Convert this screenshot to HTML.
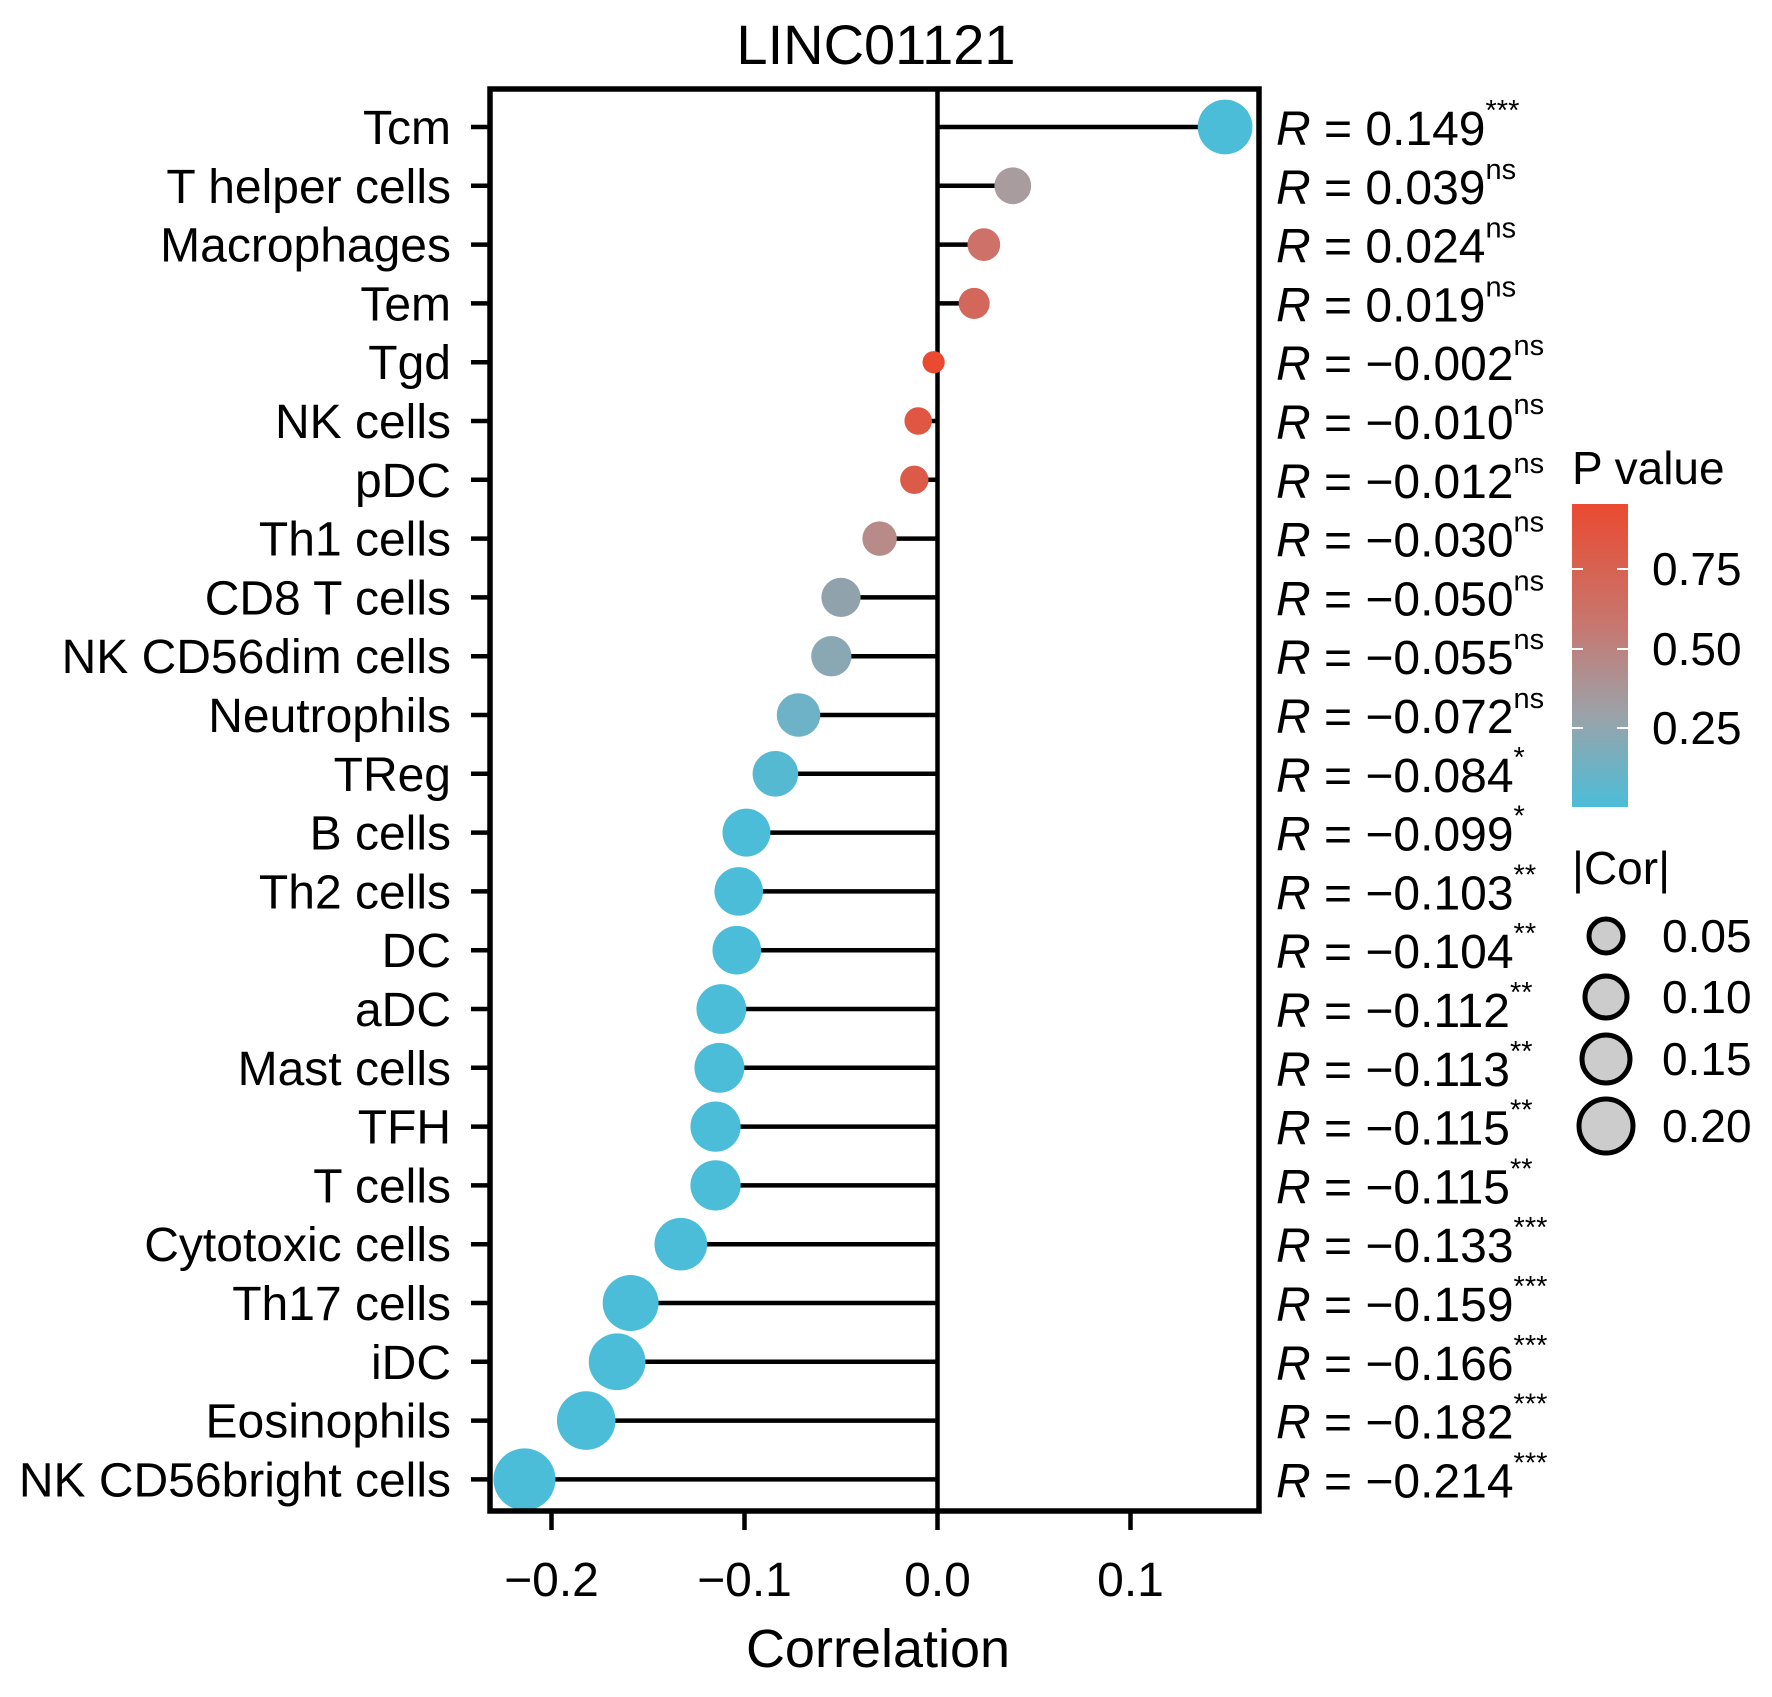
<!DOCTYPE html>
<html><head><meta charset="utf-8"><style>
html,body{margin:0;padding:0;background:#fff;}
svg{display:block;font-family:"Liberation Sans",Arial,sans-serif;}
</style></head><body>
<svg width="1772" height="1697" viewBox="0 0 1772 1697" xmlns="http://www.w3.org/2000/svg">
<defs>
<linearGradient id="pg" x1="0" y1="1" x2="0" y2="0">
<stop offset="0" stop-color="#4CBDD8"/>
<stop offset="0.3" stop-color="#9AA3AA"/>
<stop offset="0.6" stop-color="#C7776F"/>
<stop offset="1" stop-color="#EA4A30"/>
</linearGradient>
</defs>
<text x="876" y="64" font-size="56" text-anchor="middle">LINC01121</text>
<g id="plot"></g>
<rect x="1572" y="504" width="56" height="303" fill="url(#pg)"/>
<g stroke="#fff" stroke-width="2">
<line x1="1572" y1="569" x2="1583" y2="569"/><line x1="1617" y1="569" x2="1628" y2="569"/>
<line x1="1572" y1="649" x2="1583" y2="649"/><line x1="1617" y1="649" x2="1628" y2="649"/>
<line x1="1572" y1="728" x2="1583" y2="728"/><line x1="1617" y1="728" x2="1628" y2="728"/>
</g>
<g font-size="46">
<text x="1572" y="484">P value</text>
<text x="1652" y="585">0.75</text>
<text x="1652" y="665">0.50</text>
<text x="1652" y="744">0.25</text>
<text x="1572" y="884">|Cor|</text>
<text x="1662" y="952">0.05</text>
<text x="1662" y="1013">0.10</text>
<text x="1662" y="1075">0.15</text>
<text x="1662" y="1142">0.20</text>
</g>
<g fill="#cccccc" stroke="#000" stroke-width="5">
<circle cx="1606" cy="936" r="17"/>
<circle cx="1606" cy="997" r="21"/>
<circle cx="1606" cy="1059" r="24"/>
<circle cx="1606" cy="1126" r="27"/>
</g>
</svg>
<script>
const data=[
["Tcm",0.149,"0.149","***","#4CBDD8"],
["T helper cells",0.039,"0.039","ns","#A89C9F"],
["Macrophages",0.024,"0.024","ns","#CE7168"],
["Tem",0.019,"0.019","ns","#D3675B"],
["Tgd",-0.002,"\u22120.002","ns","#EA4A30"],
["NK cells",-0.010,"\u22120.010","ns","#DF5642"],
["pDC",-0.012,"\u22120.012","ns","#DB5B48"],
["Th1 cells",-0.030,"\u22120.030","ns","#B88B88"],
["CD8 T cells",-0.050,"\u22120.050","ns","#90A3AD"],
["NK CD56dim cells",-0.055,"\u22120.055","ns","#8AA8B3"],
["Neutrophils",-0.072,"\u22120.072","ns","#6DB2C7"],
["TReg",-0.084,"\u22120.084","*","#56B9D2"],
["B cells",-0.099,"\u22120.099","*","#4CBDD8"],
["Th2 cells",-0.103,"\u22120.103","**","#4CBDD8"],
["DC",-0.104,"\u22120.104","**","#4CBDD8"],
["aDC",-0.112,"\u22120.112","**","#4CBDD8"],
["Mast cells",-0.113,"\u22120.113","**","#4CBDD8"],
["TFH",-0.115,"\u22120.115","**","#4CBDD8"],
["T cells",-0.115,"\u22120.115","**","#4CBDD8"],
["Cytotoxic cells",-0.133,"\u22120.133","***","#4CBDD8"],
["Th17 cells",-0.159,"\u22120.159","***","#4CBDD8"],
["iDC",-0.166,"\u22120.166","***","#4CBDD8"],
["Eosinophils",-0.182,"\u22120.182","***","#4CBDD8"],
["NK CD56bright cells",-0.214,"\u22120.214","***","#4CBDD8"]];
const Z=937.5;
const X=v=>Z+v*1930;
let s='';
data.forEach((d,i)=>{
 const y=127+i*58.8;
 s+=`<line x1="${Z}" y1="${y}" x2="${X(d[1])}" y2="${y}" stroke="#000" stroke-width="4.5"/>`;
 s+=`<line x1="471" y1="${y}" x2="490" y2="${y}" stroke="#000" stroke-width="4.5"/>`;
 s+=`<text x="451" y="${y+17}" font-size="48" text-anchor="end">${d[0]}</text>`;
 s+=`<text x="1276" y="${y+18}" font-size="48"><tspan font-style="italic">R</tspan> = ${d[2]}<tspan font-size="29" dy="-25">${d[3]}</tspan></text>`;
});
s+=`<line x1="${Z}" y1="89" x2="${Z}" y2="1511" stroke="#000" stroke-width="4.5"/>`;
data.forEach((d,i)=>{
 const y=127+i*58.8;
 const r=9+22*Math.sqrt(Math.abs(d[1])/0.214);
 s+=`<circle cx="${X(d[1])}" cy="${y}" r="${r}" fill="${d[4]}"/>`;
});
s+=`<rect x="490" y="89" width="769" height="1422" fill="none" stroke="#000" stroke-width="5.5"/>`;
[[-0.2,"\u22120.2"],[-0.1,"\u22120.1"],[0,"0.0"],[0.1,"0.1"]].forEach(t=>{
 const x=X(t[0]);
 s+=`<line x1="${x}" y1="1511" x2="${x}" y2="1530" stroke="#000" stroke-width="4.5"/>`;
 s+=`<text x="${x}" y="1596" font-size="48" text-anchor="middle">${t[1]}</text>`;
});
s+=`<text x="878" y="1667" font-size="54" text-anchor="middle">Correlation</text>`;
document.getElementById('plot').innerHTML=s;
</script>
</body></html>
